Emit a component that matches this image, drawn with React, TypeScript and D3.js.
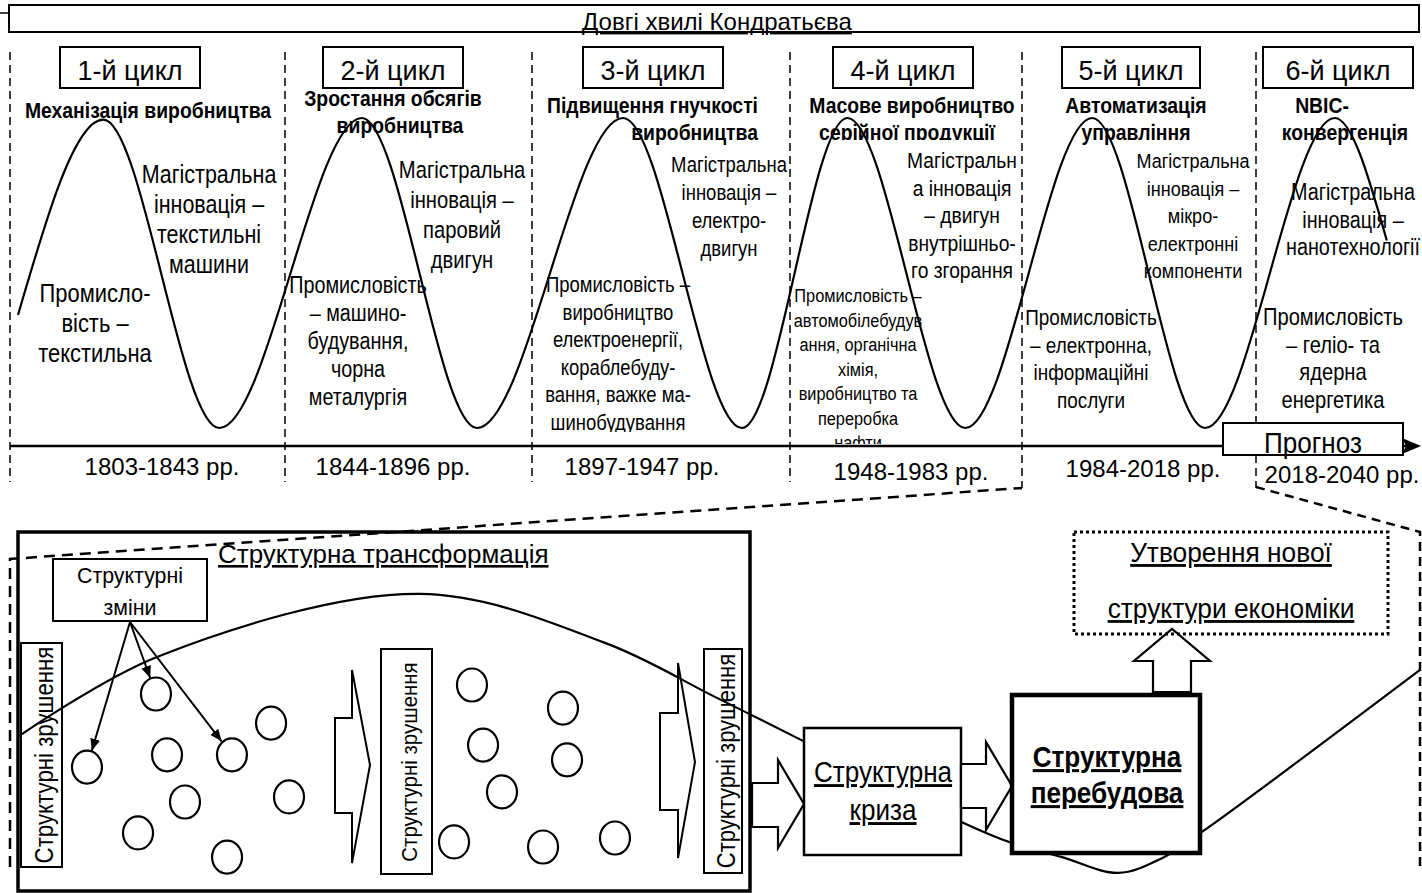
import React from "react";
import * as d3 from "d3";

const W = 1422;
const H = 893;
const FONT = "'Liberation Sans', Arial, sans-serif";

// ---- data ----
const title = "Довгі хвилі Кондратьєва";
const cycleNames = ["1-й цикл", "2-й цикл", "3-й цикл", "4-й цикл", "5-й цикл", "6-й цикл"];
const cycleYears = ["1803-1843 рр.", "1844-1896 рр.", "1897-1947 рр.", "1948-1983 рр.", "1984-2018 рр.", "2018-2040 рр."];
const boundaryYears = [1803, 1844, 1897, 1948, 1984, 2018, 2040];
const headings = [
  ["Механізація виробництва"],
  ["Зростання обсягів", "виробництва"],
  ["Підвищення гнучкості", "виробництва"],
  ["Масове виробництво", "серійної продукції"],
  ["Автоматизація", "управління"],
  ["NBIC-", "конвергенція"],
];
const innovations = [
  ["Магістральна", "інновація –", "текстильні", "машини"],
  ["Магістральна", "інновація –", "паровий", "двигун"],
  ["Магістральна", "інновація –", "електро-", "двигун"],
  ["Магістральн", "а інновація", "– двигун", "внутрішньо-", "го згорання"],
  ["Магістральна", "інновація –", "мікро-", "електронні", "компоненти"],
  ["Магістральна", "інновація –", "нанотехнології"],
];
const industries = [
  ["Промисло-", "вість –", "текстильна"],
  ["Промисловість", "– машино-", "будування,", "чорна", "металургія"],
  ["Промисловість –", "виробництво", "електроенергії,", "кораблебуду-", "вання, важке ма-", "шинобудування"],
  ["Промисловість –", "автомобілебудув", "ання, органічна", "хімія,", "виробництво та", "переробка", "нафти"],
  ["Промисловість", "– електронна,", "інформаційні", "послуги"],
  ["Промисловість", "– геліо- та", "ядерна", "енергетика"],
];
const forecastLabel = "Прогноз";

// Kondratiev wave extremes (year, relative level)
const waveYears = [1804.2, 1816.9, 1834.2, 1860.5, 1885.2, 1915.0, 1938.5, 1956.9, 1975.2, 1994.2, 2010.6, 2028.9, 2036.1];
const waveLevels = [-0.27, 0.99, -1, 1, -1, 1, -1, 1, -1, 1, -1, 1, 0.21];

// structural transformation scheme (0..100 units)
const transformTitle = "Структурна трансформація";
const changesLabel = ["Структурні", "зміни"];
const shiftLabel = "Структурні зрушення";
const crisisLabel = ["Структурна", "криза"];
const rebuildLabel = ["Структурна", "перебудова"];
const newStructLabel = ["Утворення нової", "структури економіки"];
const elementsU = [4.92, 9.84, 10.63, 15.26, 18.05, 11.91, 8.56, 19.33, 14.91, 32.38, 38.87, 33.17, 39.16, 34.52, 31.1, 37.45, 42.58];
const elementsV = [65.3, 45.0, 61.9, 61.9, 53.1, 75.0, 83.6, 73.6, 90.3, 42.5, 48.9, 59.2, 63.3, 72.2, 86.1, 87.5, 85.0];
const changeTargets = [0, 1, 3];
const schemeU = [0, 9.91, 28.67, 41.87, 49.71, 56.13, 67.33, 70.9, 74.47, 78.46, 81.6, 84.45, 100];
const schemeV = [56.9, 34.7, 17.2, 30.8, 45.8, 58.3, 80.6, 86.4, 90.3, 94.7, 90.6, 83.3, 38.3];

// ---- layout ----
const NARROW = 0.86;
const cycleBoxes = [[60, 200], [323, 463], [583, 723], [833, 973], [1062, 1200], [1263, 1413]];
const yearPos = [[162, 475], [393, 475], [642, 475], [911, 480], [1143, 477], [1342, 483]];
const headLayout = [
  { xs: [148], y: 118, anchor: "middle" },
  { xs: [393, 400], y: 106, anchor: "middle" },
  { xs: [758, 758], y: 113, anchor: "end" },
  { xs: [912, 907], y: 113, anchor: "middle", clip: "clipHead4" },
  { xs: [1136, 1136], y: 113, anchor: "middle" },
  { xs: [1322, 1345], y: 113, anchor: "middle" },
];
const innLayout = [
  { x: 209, y: 183, lh: 30, fs: 25 },
  { x: 462, y: 178, lh: 30, fs: 23.5 },
  { x: 729, y: 172, lh: 28, fs: 21.5 },
  { x: 962, y: 168, lh: 27.5, fs: 22.4 },
  { x: 1193, y: 168, lh: 27.5, fs: 21 },
  { x: 1353, y: 200, lh: 27.5, fs: 23 },
];
const indLayout = [
  { x: 95, y: 302, lh: 30, fs: 25.5 },
  { x: 358, y: 293, lh: 28, fs: 23 },
  { x: 618, y: 292, lh: 27.6, fs: 21.5, clip: "clipInd3" },
  { x: 858, y: 302, lh: 24.5, fs: 19, clip: "clipInd4" },
  { x: 1091, y: 325, lh: 27.7, fs: 22 },
  { x: 1333, y: 325, lh: 27.7, fs: 23.4 },
];

type TProps = {
  x: number;
  y: number;
  fs: number;
  sx?: number;
  bold?: boolean;
  underline?: boolean;
  anchor?: string;
  rotate?: number;
  children: React.ReactNode;
};

const T = ({ x, y, fs, sx = 1, bold = false, underline = false, anchor = "middle", rotate, children }: TProps) => (
  <text
    transform={`translate(${x},${y})${rotate ? ` rotate(${rotate})` : ""} scale(${sx},1)`}
    fontFamily={FONT}
    fontSize={fs}
    fontWeight={bold ? "bold" : "normal"}
    textAnchor={anchor}
    textDecoration={underline ? "underline" : undefined}
  >
    {children}
  </text>
);

type LinesProps = {
  lines: string[];
  x?: number;
  xs?: number[];
  y: number;
  lh: number;
  fs: number;
  sx?: number;
  bold?: boolean;
  underline?: boolean;
  anchor?: string;
  clip?: string;
};

const Lines = ({ lines, x = 0, xs, y, lh, fs, sx = 1, bold = false, underline = false, anchor = "middle", clip }: LinesProps) => (
  <g clipPath={clip ? `url(#${clip})` : undefined}>
    {lines.map((l, i) => (
      <T key={i} x={xs ? xs[i] ?? xs[0] : x} y={y + i * lh} fs={fs} sx={sx} bold={bold} underline={underline} anchor={anchor}>
        {l}
      </T>
    ))}
  </g>
);

const blockArrow = (pts: number[][]) => "M" + pts.map((p) => p.join(",")).join("L") + "Z";

export default function App() {
  const xTime = d3.scaleLinear().domain(boundaryYears).range([10, 285, 532, 790, 1022, 1256, 1415]);
  const yLevel = d3.scaleLinear().domain([-1, 1]).range([428, 118]);
  const axisY = 446;

  const wavePath = d3
    .line<number>()
    .x((d) => xTime(d))
    .y((_, i) => yLevel(waveLevels[i]))
    .curve(d3.curveMonotoneX)(waveYears) as string;

  const bx = d3.scaleLinear().domain([0, 100]).range([18, 1420]);
  const by = d3.scaleLinear().domain([0, 100]).range([532, 892]);
  const schemePath = d3
    .line<number>()
    .x((d) => bx(d))
    .y((_, i) => by(schemeV[i]))
    .curve(d3.curveCatmullRom.alpha(0.5))(schemeU) as string;

  const origin = [130, 622];

  return (
    <svg width={W} height={H} style={{ position: "absolute", left: 0, top: 0, background: "#fff" }}>
      <defs>
        <clipPath id="clipHead4">
          <rect x={790} y={90} width={232} height={50} />
        </clipPath>
        <clipPath id="clipInd3">
          <rect x={532} y={260} width={258} height={172} />
        </clipPath>
        <clipPath id="clipInd4">
          <rect x={780} y={260} width={250} height={184} />
        </clipPath>
        <marker id="arr" viewBox="0 0 12 10" refX={12} refY={5} markerWidth={12} markerHeight={10} markerUnits="userSpaceOnUse" orient="auto">
          <path d="M0,0 L12,5 L0,10 Z" fill="#000" />
        </marker>
      </defs>
      <rect width={W} height={H} fill="#fff" />

      {/* title bar */}
      <line x1={0} y1={13} x2={9} y2={13} stroke="#000" strokeWidth={1.5} />
      <rect x={9} y={5} width={1410} height={27} fill="none" stroke="#000" strokeWidth={2} />
      <T x={717} y={30} fs={24} underline>
        {title}
      </T>

      {/* cycle separators */}
      {boundaryYears.slice(0, 6).map((yr, i) => (
        <line
          key={yr}
          x1={xTime(yr)}
          x2={xTime(yr)}
          y1={52}
          y2={i >= 4 ? 488 : 482}
          stroke="#000"
          strokeWidth={1.5}
          strokeDasharray="8 5"
        />
      ))}

      {/* cycle name boxes */}
      {cycleNames.map((c, i) => (
        <g key={c}>
          <rect x={cycleBoxes[i][0]} y={47} width={cycleBoxes[i][1] - cycleBoxes[i][0]} height={41} fill="#fff" stroke="#000" strokeWidth={2} />
          <T x={(cycleBoxes[i][0] + cycleBoxes[i][1]) / 2} y={80} fs={27}>
            {c}
          </T>
        </g>
      ))}

      {/* headings */}
      {headings.map((h, i) => (
        <Lines key={i} lines={h} xs={headLayout[i].xs} y={headLayout[i].y} lh={27} fs={22} sx={0.88} bold anchor={headLayout[i].anchor} clip={headLayout[i].clip} />
      ))}

      {/* wave */}
      <path d={wavePath} fill="none" stroke="#000" strokeWidth={2.2} />

      {/* innovations / industries */}
      {innovations.map((l, i) => (
        <Lines key={"in" + i} lines={l} x={innLayout[i].x} y={innLayout[i].y} lh={innLayout[i].lh} fs={innLayout[i].fs} sx={NARROW} />
      ))}
      {industries.map((l, i) => (
        <Lines key={"id" + i} lines={l} x={indLayout[i].x} y={indLayout[i].y} lh={indLayout[i].lh} fs={indLayout[i].fs} sx={NARROW} clip={indLayout[i].clip} />
      ))}

      {/* time axis */}
      <line x1={10} y1={axisY} x2={1408} y2={axisY} stroke="#000" strokeWidth={2.5} />
      <path d={`M1421,${axisY} L1402,${axisY - 8} L1406,${axisY} L1402,${axisY + 8} Z`} fill="#000" />
      <rect x={1223} y={423} width={180} height={32} fill="#fff" stroke="#000" strokeWidth={2} />
      <T x={1313} y={453} fs={29} sx={0.9}>
        {forecastLabel}
      </T>

      {cycleYears.map((t, i) => (
        <T key={t} x={yearPos[i][0]} y={yearPos[i][1]} fs={24}>
          {t}
        </T>
      ))}

      {/* ----- lower scheme ----- */}
      <path d={`M10,867 L10,559 L${xTime(1984)},488`} fill="none" stroke="#000" strokeWidth={2.5} strokeDasharray="11 7" />
      <path d={`M${xTime(2018)},487 L1420,532 L1420,867`} fill="none" stroke="#000" strokeWidth={2.5} strokeDasharray="9 6" />

      <rect x={18} y={532} width={732} height={359} fill="none" stroke="#000" strokeWidth={3.5} />
      <T x={218} y={563} fs={26} anchor="start" underline>
        {transformTitle}
      </T>

      <rect x={53} y={559} width={154} height={62} fill="#fff" stroke="#000" strokeWidth={2} />
      <Lines lines={changesLabel} x={130} y={583} lh={32} fs={23} sx={0.93} />

      {/* shift boxes */}
      <rect x={21} y={643} width={41} height={224} fill="#fff" stroke="#000" strokeWidth={2} />
      <T x={53} y={755} fs={25} sx={0.89} rotate={-90}>
        {shiftLabel}
      </T>
      <rect x={381} y={649} width={51} height={225} fill="#fff" stroke="#000" strokeWidth={2} />
      <T x={417} y={762} fs={22} sx={0.93} rotate={-90}>
        {shiftLabel}
      </T>
      <rect x={704} y={649} width={38} height={224} fill="#fff" stroke="#000" strokeWidth={2} />
      <T x={735} y={761} fs={25} sx={0.88} rotate={-90}>
        {shiftLabel}
      </T>

      {/* elements */}
      {elementsU.map((u, i) => (
        <ellipse key={i} cx={bx(u)} cy={by(elementsV[i])} rx={15} ry={16.5} fill="#fff" stroke="#000" strokeWidth={2.2} />
      ))}

      {/* block arrows inside */}
      <path d={blockArrow([[335, 718], [352, 718], [352, 670], [370, 765], [352, 863], [352, 813], [335, 813]])} fill="#fff" stroke="#000" strokeWidth={2} />
      <path d={blockArrow([[660, 713], [678, 713], [678, 663], [695, 762], [678, 858], [678, 810], [660, 810]])} fill="#fff" stroke="#000" strokeWidth={2} />

      {/* scheme curve */}
      <path d={schemePath} fill="none" stroke="#000" strokeWidth={2.2} />

      {/* change arrows */}
      {changeTargets.map((k) => {
        const tx = bx(elementsU[k]);
        const ty = by(elementsV[k]);
        const ang = Math.atan2(ty - origin[1], tx - origin[0]);
        return (
          <line
            key={k}
            x1={origin[0]}
            y1={origin[1]}
            x2={tx - Math.cos(ang) * 17}
            y2={ty - Math.sin(ang) * 17}
            stroke="#000"
            strokeWidth={2}
            markerEnd="url(#arr)"
          />
        );
      })}

      {/* arrows to crisis and rebuild */}
      <path d={blockArrow([[752, 783], [778, 783], [778, 760], [804, 804], [778, 848], [778, 827], [752, 827]])} fill="#fff" stroke="#000" strokeWidth={2.2} />
      <rect x={804} y={728} width={157} height={127} fill="#fff" stroke="#000" strokeWidth={2.5} />
      <Lines lines={crisisLabel} x={883} y={782} lh={38} fs={29} sx={0.9} underline />

      <path d={blockArrow([[961, 764], [986, 764], [986, 742], [1012, 786], [986, 830], [986, 808], [961, 808]])} fill="#fff" stroke="#000" strokeWidth={2.2} />
      <path d={blockArrow([[1153, 692], [1153, 661], [1134, 661], [1172, 629], [1210, 661], [1191, 661], [1191, 692]])} fill="#fff" stroke="#000" strokeWidth={2.2} />
      <rect x={1012} y={695} width={188} height={158} fill="#fff" stroke="#000" strokeWidth={4.5} />
      <Lines lines={rebuildLabel} x={1107} y={767} lh={36} fs={30} sx={0.87} bold underline />

      <rect x={1074} y={532} width={314} height={102} fill="none" stroke="#000" strokeWidth={3} strokeDasharray="3 3" />
      <Lines lines={newStructLabel} x={1231} y={562} lh={56} fs={28} sx={0.94} underline />
    </svg>
  );
}
